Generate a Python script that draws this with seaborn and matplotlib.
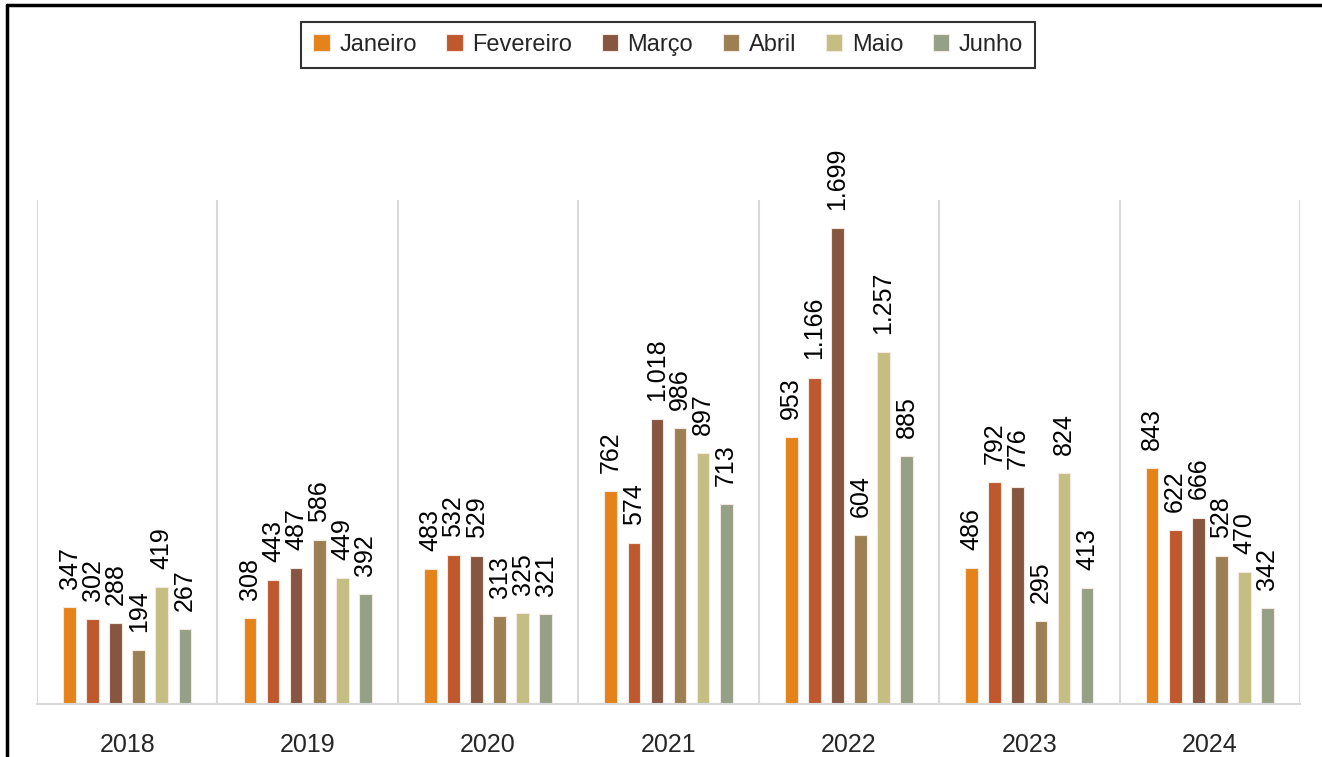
import matplotlib
matplotlib.use("Agg")
import matplotlib.pyplot as plt
import seaborn as sns
import pandas as pd

years = ["2018", "2019", "2020", "2021", "2022", "2023", "2024"]
months = ["Janeiro", "Fevereiro", "Março", "Abril", "Maio", "Junho"]
janeiro = [347, 308, 483, 762, 953, 486, 843]
fevereiro = [302, 443, 532, 574, 1166, 792, 622]
marco = [288, 487, 529, 1018, 1699, 776, 666]
abril = [194, 586, 313, 986, 604, 295, 528]
maio = [419, 449, 325, 897, 1257, 824, 470]
junho = [267, 392, 321, 713, 885, 413, 342]
colors = ["#E5821A", "#C0582D", "#875640", "#9C8054", "#C4BE82", "#95A086"]

series = [janeiro, fevereiro, marco, abril, maio, junho]
rows = []
for m, vals in zip(months, series):
    for y, v in zip(years, vals):
        rows.append({"Ano": y, "Mês": m, "Valor": v})
df = pd.DataFrame(rows)

sns.set_theme(style="white")
plt.rcParams["font.family"] = ["Liberation Sans", "DejaVu Sans"]

fig = plt.figure(figsize=(13.22, 7.57), dpi=100)
ax = fig.add_axes([37 / 1322, 1 - 704 / 757, (1300 - 37) / 1322, (704 - 200) / 757])

sns.barplot(data=df, x="Ano", y="Valor", hue="Mês", order=years, hue_order=months,
            palette=colors, width=0.767, gap=0.45, ax=ax, legend=True,
            edgecolor="#F4E8E0", linewidth=0.8, saturation=1)

ax.set_ylim(0, 1800)
ax.set_xlim(-0.5, 6.5)
ax.set_xlabel("")
ax.set_ylabel("")
ax.set_yticks([])
for s in ["top", "right", "left"]:
    ax.spines[s].set_visible(False)
ax.spines["bottom"].set_color("#D9D9D9")
ax.spines["bottom"].set_linewidth(1.5)
for xv in [i - 0.5 for i in range(8)]:
    ax.axvline(xv, color="#D9D9D9", linewidth=1.5, zorder=0)
ax.tick_params(axis="x", length=0, pad=21, labelsize=18)

for cont in ax.containers:
    for p in cont:
        h = p.get_height()
        lbl = f"{int(h):,}".replace(",", ".")
        ax.annotate(lbl, (p.get_x() + p.get_width() / 2, h), xytext=(0, 13),
                    textcoords="offset points", rotation=90, ha="center", va="bottom",
                    fontsize=18, color="black", annotation_clip=False)

handles, labels = ax.get_legend_handles_labels()
ax.get_legend().remove()
leg = fig.legend(handles, labels, loc="center", bbox_to_anchor=(668 / 1322, 1 - 45 / 757),
                 ncol=6, frameon=True, fancybox=False, handlelength=0.7, handleheight=0.7,
                 handletextpad=0.4, columnspacing=1.25, borderpad=0.5,
                 prop={"family": ["Liberation Sans", "DejaVu Sans"], "size": 17})
leg.get_frame().set_edgecolor("black")
leg.get_frame().set_linewidth(1.5)

fig.add_artist(plt.Line2D([7 / 1322, 7 / 1322], [0, 1 - 5 / 757], transform=fig.transFigure, color="black", linewidth=2.5))
fig.add_artist(plt.Line2D([7 / 1322, 1], [1 - 5 / 757, 1 - 5 / 757], transform=fig.transFigure, color="black", linewidth=2.5))

fig.savefig("out.png", dpi=100)
